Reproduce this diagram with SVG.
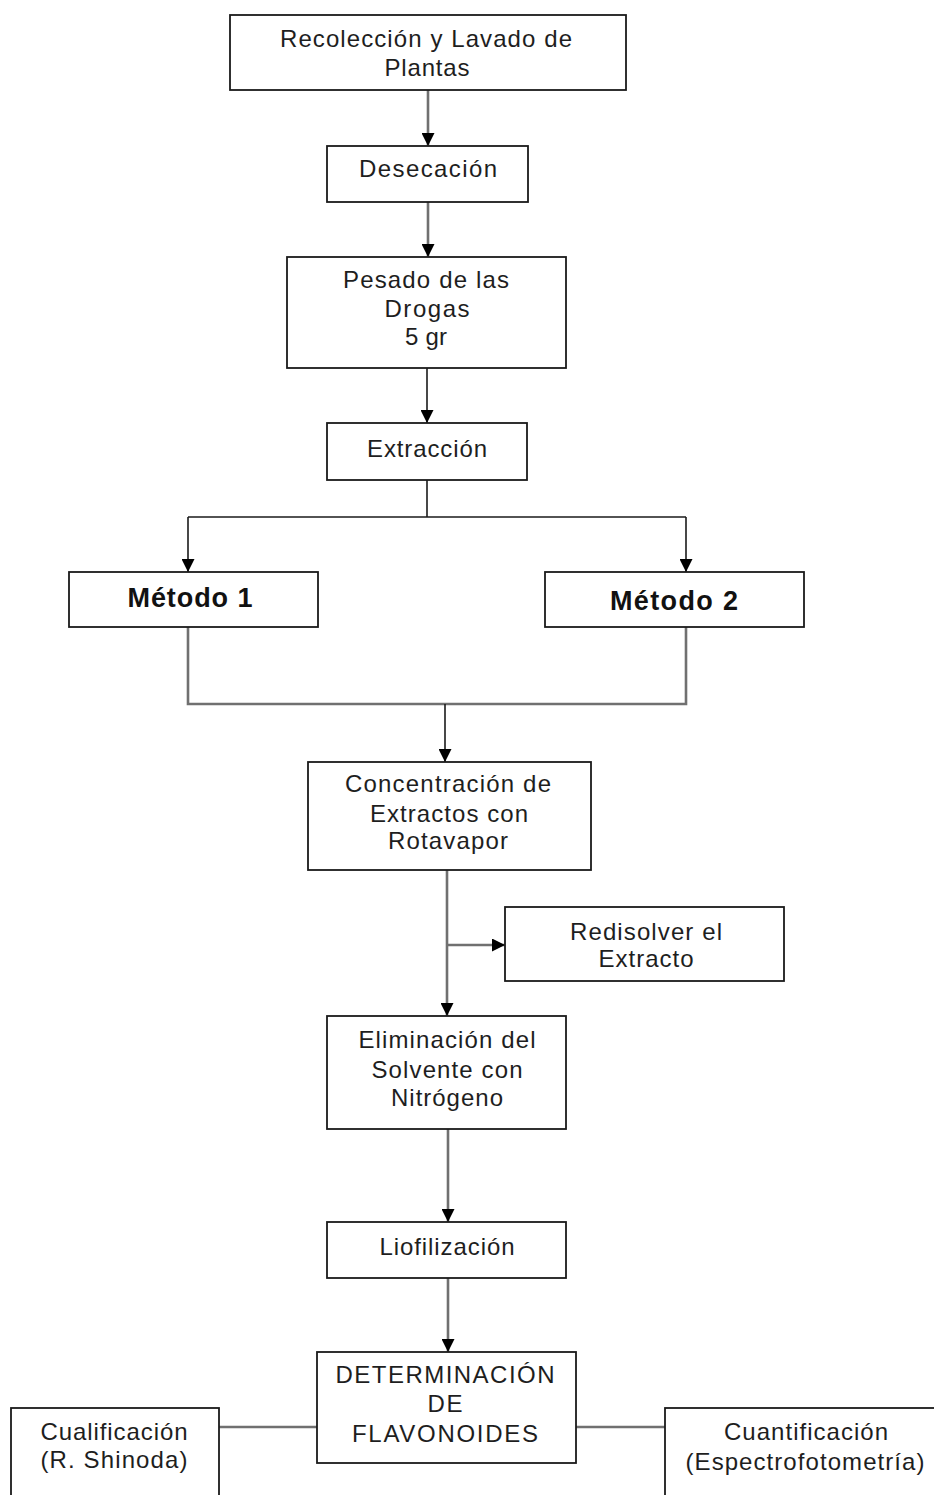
<svg xmlns="http://www.w3.org/2000/svg" width="934" height="1495" viewBox="0 0 934 1495">
<style>
.box{fill:#fff;stroke:#1a1a1a;stroke-width:1.8}
.t{font-family:"Liberation Sans",Arial,sans-serif;font-size:24px;fill:#1e1e1e;text-anchor:middle}
.b{font-family:"Liberation Sans",Arial,sans-serif;font-size:27px;font-weight:bold;fill:#111;text-anchor:middle}
.k{fill:none;stroke:#1a1a1a;stroke-width:1.6}
.g{fill:none;stroke:#707070;stroke-width:2.6}
</style>
<defs>
<marker id="ah" markerUnits="userSpaceOnUse" markerWidth="13" markerHeight="13" refX="13" refY="6.5" orient="auto">
<path d="M0,0 L13,6.5 L0,13 z" fill="#000"/>
</marker>
</defs>
<rect width="934" height="1495" fill="#fff"/>
<g id="connectors">
<path class="g" d="M428,90 V146" marker-end="url(#ah)"/>
<path class="g" d="M428,202 V257" marker-end="url(#ah)"/>
<path class="k" d="M427,368 V423" marker-end="url(#ah)"/>
<path class="k" d="M427,480 V517"/>
<path class="k" d="M188,517 H686"/>
<path class="k" d="M188,517 V572" marker-end="url(#ah)"/>
<path class="k" d="M686,517 V572" marker-end="url(#ah)"/>
<path class="g" d="M188,627 V704 H686 V627"/>
<path class="k" d="M445,704 V762" marker-end="url(#ah)"/>
<path class="g" d="M447,870 V1016" marker-end="url(#ah)"/>
<path class="g" d="M447,945 H505" marker-end="url(#ah)"/>
<path class="g" d="M448,1129 V1222" marker-end="url(#ah)"/>
<path class="g" d="M448,1278 V1352" marker-end="url(#ah)"/>
<path class="g" d="M219,1427 H317"/>
<path class="g" d="M576,1427 H665"/>
</g>
<g id="n1">
<rect class="box" x="230" y="15" width="396" height="75"/>
<text class="t" x="426" y="47" textLength="292" lengthAdjust="spacing">Recolección y Lavado de</text>
<text class="t" x="427" y="76" textLength="85" lengthAdjust="spacing">Plantas</text>
</g>
<g id="n2">
<rect class="box" x="327" y="146" width="201" height="56"/>
<text class="t" x="428" y="177" textLength="138" lengthAdjust="spacing">Desecación</text>
</g>
<g id="n3">
<rect class="box" x="287" y="257" width="279" height="111"/>
<text class="t" x="426" y="288" textLength="166" lengthAdjust="spacing">Pesado de las</text>
<text class="t" x="427" y="317" textLength="85" lengthAdjust="spacing">Drogas</text>
<text class="t" x="426" y="345" textLength="42" lengthAdjust="spacing">5 gr</text>
</g>
<g id="n4">
<rect class="box" x="327" y="423" width="200" height="57"/>
<text class="t" x="427" y="457" textLength="120" lengthAdjust="spacing">Extracción</text>
</g>
<g id="n5">
<rect class="box" x="69" y="572" width="249" height="55"/>
<text class="b" x="190" y="607" textLength="125" lengthAdjust="spacing">Método 1</text>
</g>
<g id="n6">
<rect class="box" x="545" y="572" width="259" height="55"/>
<text class="b" x="674" y="610" textLength="128" lengthAdjust="spacing">Método 2</text>
</g>
<g id="n7">
<rect class="box" x="308" y="762" width="283" height="108"/>
<text class="t" x="448" y="792" textLength="206" lengthAdjust="spacing">Concentración de</text>
<text class="t" x="449" y="822" textLength="158" lengthAdjust="spacing">Extractos con</text>
<text class="t" x="448" y="849" textLength="120" lengthAdjust="spacing">Rotavapor</text>
</g>
<g id="n8">
<rect class="box" x="505" y="907" width="279" height="74"/>
<text class="t" x="646" y="940" textLength="152" lengthAdjust="spacing">Redisolver el</text>
<text class="t" x="646" y="967" textLength="95" lengthAdjust="spacing">Extracto</text>
</g>
<g id="n9">
<rect class="box" x="327" y="1016" width="239" height="113"/>
<text class="t" x="447" y="1048" textLength="177" lengthAdjust="spacing">Eliminación del</text>
<text class="t" x="447" y="1078" textLength="151" lengthAdjust="spacing">Solvente con</text>
<text class="t" x="447" y="1106" textLength="112" lengthAdjust="spacing">Nitrógeno</text>
</g>
<g id="n10">
<rect class="box" x="327" y="1222" width="239" height="56"/>
<text class="t" x="447" y="1255" textLength="135" lengthAdjust="spacing">Liofilización</text>
</g>
<g id="n11">
<rect class="box" x="317" y="1352" width="259" height="111"/>
<text class="t" x="445" y="1383" textLength="219" lengthAdjust="spacing">DETERMINACIÓN</text>
<text class="t" x="445" y="1412" textLength="35" lengthAdjust="spacing">DE</text>
<text class="t" x="445" y="1442" textLength="186" lengthAdjust="spacing">FLAVONOIDES</text>
</g>
<g id="n12">
<rect class="box" x="11" y="1408" width="208" height="100"/>
<text class="t" x="114" y="1440" textLength="147" lengthAdjust="spacing">Cualificación</text>
<text class="t" x="114" y="1468" textLength="147" lengthAdjust="spacing">(R. Shinoda)</text>
</g>
<g id="n13">
<rect class="box" x="665" y="1408" width="280" height="100"/>
<text class="t" x="806" y="1440" textLength="164" lengthAdjust="spacing">Cuantificación</text>
<text class="t" x="805" y="1470" textLength="239" lengthAdjust="spacing">(Espectrofotometría)</text>
</g>
</svg>
